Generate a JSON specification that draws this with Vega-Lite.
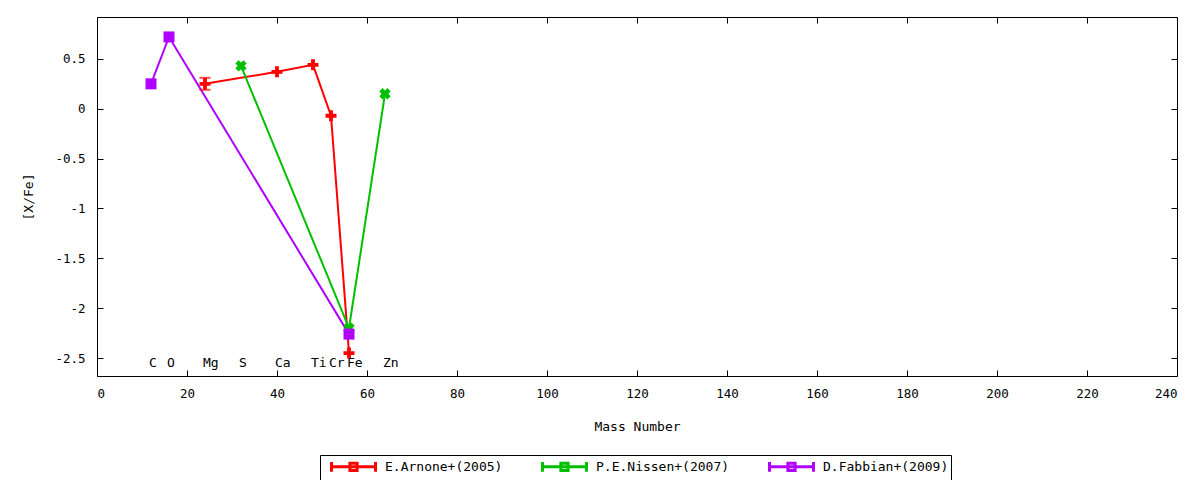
{
  "$schema": "https://vega.github.io/schema/vega-lite/v6.json",
  "width": 1080,
  "height": 359,
  "autosize": {"type": "none"},
  "padding": {"left": 97, "top": 17, "right": 23, "bottom": 104},
  "background": "white",
  "config": {
    "view": {"stroke": "black", "strokeWidth": 1},
    "axis": {
      "grid": false,
      "domain": false,
      "tickColor": "black",
      "tickSize": -6,
      "tickWidth": 1,
      "labelColor": "black",
      "labelFont": "DejaVu Sans Mono",
      "labelFontSize": 12.5,
      "titleFont": "DejaVu Sans Mono",
      "titleFontSize": 13,
      "titleFontWeight": "normal",
      "titleColor": "black"
    }
  },
  "datasets": {
    "abund": [
      {"series": "E.Arnone+(2005)", "element": "Mg", "mass": 24, "value": 0.25, "lo": 0.19, "hi": 0.31},
      {"series": "E.Arnone+(2005)", "element": "Ca", "mass": 40, "value": 0.37},
      {"series": "E.Arnone+(2005)", "element": "Ti", "mass": 48, "value": 0.44},
      {"series": "E.Arnone+(2005)", "element": "Cr", "mass": 52, "value": -0.07},
      {"series": "E.Arnone+(2005)", "element": "Fe", "mass": 56, "value": -2.45},
      {"series": "P.E.Nissen+(2007)", "element": "S", "mass": 32, "value": 0.43},
      {"series": "P.E.Nissen+(2007)", "element": "Fe", "mass": 56, "value": -2.2},
      {"series": "P.E.Nissen+(2007)", "element": "Zn", "mass": 64, "value": 0.15},
      {"series": "D.Fabbian+(2009)", "element": "C", "mass": 12, "value": 0.25},
      {"series": "D.Fabbian+(2009)", "element": "O", "mass": 16, "value": 0.72},
      {"series": "D.Fabbian+(2009)", "element": "Fe", "mass": 56, "value": -2.26}
    ],
    "labels": [
      {"element": "C", "mass": 12},
      {"element": "O", "mass": 16},
      {"element": "Mg", "mass": 24},
      {"element": "S", "mass": 32},
      {"element": "Ca", "mass": 40},
      {"element": "Ti", "mass": 48},
      {"element": "Cr", "mass": 52},
      {"element": "Fe", "mass": 56},
      {"element": "Zn", "mass": 64}
    ]
  },
  "layer": [
    {
      "data": {"name": "abund"},
      "mark": {"type": "line", "strokeWidth": 2},
      "encoding": {
        "x": {"field": "mass", "type": "quantitative", "scale": {"domain": [0, 240], "nice": false},
              "axis": {"title": "Mass Number", "values": [0,20,40,60,80,100,120,140,160,180,200,220,240], "labelPadding": 17, "titlePadding": 21}},
        "y": {"field": "value", "type": "quantitative", "scale": {"domain": [-2.68, 0.92], "nice": false, "zero": false},
              "axis": {"title": "[X/Fe]", "values": [-2.5,-2,-1.5,-1,-0.5,0,0.5], "labelPadding": 18, "titlePadding": 19,
                       "labelExpr": "'' + datum.value"}},
        "color": {"field": "series", "type": "nominal",
                  "scale": {"domain": ["E.Arnone+(2005)", "P.E.Nissen+(2007)", "D.Fabbian+(2009)"], "range": ["#ff0000", "#00c000", "#b000ff"]},
                  "legend": {"orient": "none", "legendX": 223, "legendY": 438, "direction": "horizontal", "title": null,
                             "symbolType": "M-2.75,0H2.75M-2.75,-0.6V0.6M2.75,-0.6V0.6M-0.45,-0.45H0.45V0.45H-0.45Z",
                             "symbolSize": 256, "symbolStrokeWidth": 3, "symbolFillColor": "transparent", "symbolOffset": 22,
                             "labelFont": "DejaVu Sans Mono", "labelFontSize": 13, "labelColor": "black",
                             "labelOffset": 22, "columnPadding": 30, "padding": 2, "strokeColor": "black"}},
        "order": {"field": "mass", "type": "quantitative"}
      }
    },
    {
      "data": {"name": "abund"},
      "transform": [{"filter": "isValid(datum.lo)"}],
      "layer": [
        {"mark": {"type": "rule", "strokeWidth": 2, "color": "#ff0000"},
         "encoding": {"y2": {"field": "hi"}}},
        {"mark": {"type": "tick", "orient": "horizontal", "size": 11, "thickness": 2, "color": "#ff0000"}, "encoding": {}},
        {"mark": {"type": "tick", "orient": "horizontal", "size": 11, "thickness": 2, "color": "#ff0000"},
         "encoding": {"y": {"field": "hi", "type": "quantitative", "axis": null}}}
      ],
      "encoding": {
        "x": {"field": "mass", "type": "quantitative", "axis": null},
        "y": {"field": "lo", "type": "quantitative", "axis": null}
      }
    },
    {
      "data": {"name": "abund"},
      "transform": [{"filter": "datum.series == 'E.Arnone+(2005)'"}],
      "mark": {"type": "point", "filled": true, "opacity": 1, "size": 121, "strokeWidth": 0, "color": "#ff0000",
               "shape": "M-1,-0.35H-0.35V-1H0.35V-0.35H1V0.35H0.35V1H-0.35V0.35H-1Z"},
      "encoding": {
        "x": {"field": "mass", "type": "quantitative", "axis": null},
        "y": {"field": "value", "type": "quantitative", "axis": null}
      }
    },
    {
      "data": {"name": "abund"},
      "transform": [{"filter": "datum.series == 'P.E.Nissen+(2007)'"}],
      "mark": {"type": "point", "filled": true, "opacity": 1, "size": 144, "strokeWidth": 0, "color": "#00c000",
               "shape": "M-0.95,-0.4L-0.4,-0.95L0,-0.55L0.4,-0.95L0.95,-0.4L0.55,0L0.95,0.4L0.4,0.95L0,0.55L-0.4,0.95L-0.95,0.4L-0.55,0Z"},
      "encoding": {
        "x": {"field": "mass", "type": "quantitative", "axis": null},
        "y": {"field": "value", "type": "quantitative", "axis": null}
      }
    },
    {
      "data": {"name": "abund"},
      "transform": [{"filter": "datum.series == 'D.Fabbian+(2009)'"}],
      "mark": {"type": "point", "filled": true, "opacity": 1, "size": 121, "strokeWidth": 0, "color": "#b000ff", "shape": "square"},
      "encoding": {
        "x": {"field": "mass", "type": "quantitative", "axis": null},
        "y": {"field": "value", "type": "quantitative", "axis": null}
      }
    },
    {
      "data": {"name": "labels"},
      "mark": {"type": "text", "align": "left", "baseline": "middle", "dx": -2, "font": "DejaVu Sans Mono", "fontSize": 13, "color": "black"},
      "encoding": {
        "x": {"field": "mass", "type": "quantitative",
              "axis": {"orient": "top", "labels": false, "title": null, "values": [0,20,40,60,80,100,120,140,160,180,200,220,240]}},
        "y": {"datum": -2.55, "type": "quantitative",
              "axis": {"orient": "right", "labels": false, "title": null, "values": [-2.5,-2,-1.5,-1,-0.5,0,0.5]}},
        "text": {"field": "element"}
      }
    }
  ],
  "resolve": {"axis": {"x": "independent", "y": "independent"}}
}
